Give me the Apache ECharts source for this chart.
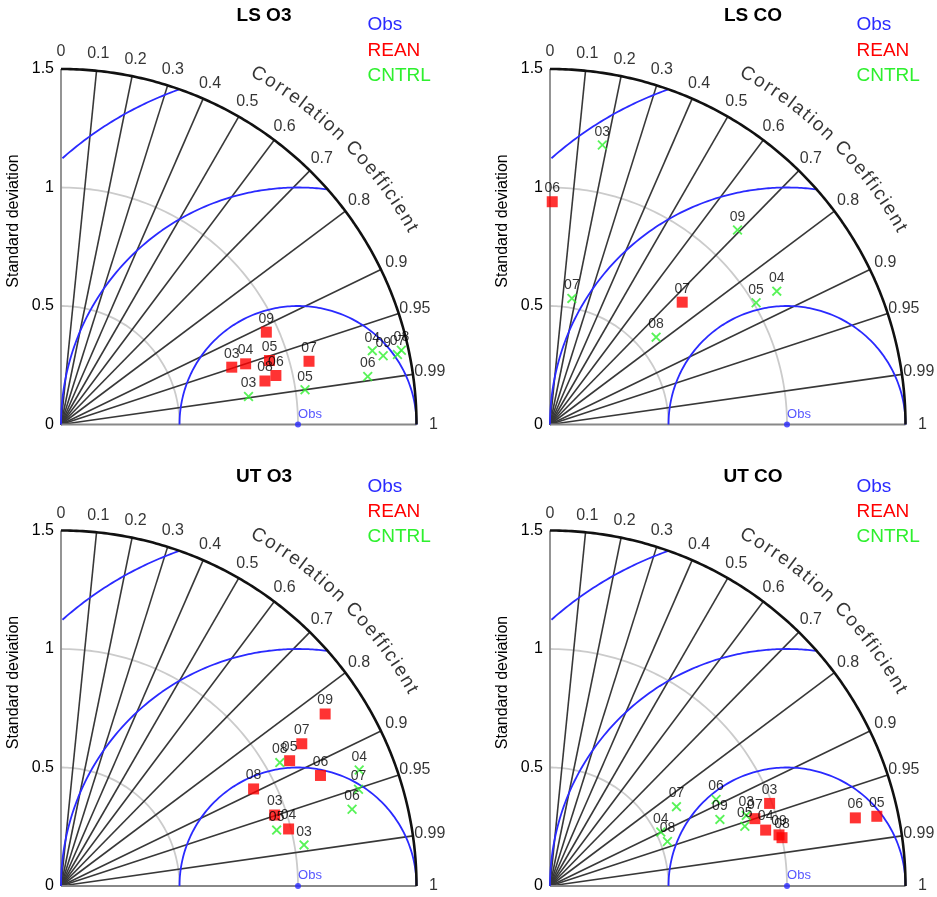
<!DOCTYPE html>
<html>
<head>
<meta charset="utf-8">
<title>Taylor diagrams</title>
<script src="https://cdn.jsdelivr.net/npm/echarts@6.0.0/dist/echarts.min.js"></script>
<style>
html, body { margin: 0; padding: 0; background: #fff; }
#chart { width: 937px; height: 897px; }
</style>
</head>
<body>
<div id="chart"></div>
<script>
// panels, in reading order
var panelTitles = ['LS O3', 'LS CO', 'UT O3', 'UT CO'];
var seriesNames = ['Obs', 'REAN', 'CNTRL'];

// correlation ticks round the arc
var corrTicks = [0, 0.1, 0.2, 0.3, 0.4, 0.5, 0.6, 0.7, 0.8, 0.9, 0.95, 0.99, 1];
var corrTickLabels = ['0', '0.1', '0.2', '0.3', '0.4', '0.5', '0.6', '0.7', '0.8', '0.9', '0.95', '0.99', '1'];
var stdArcs = [0.5, 1];        // grey std circles
var rmsArcs = [0.5, 1, 1.5];   // blue centred-RMS circles round Obs
var obsStd = 1;

// LS O3
var lsO3ReanLabels = ['03', '04', '05', '06', '07', '08', '09'];
var lsO3ReanStd    = [0.76, 0.82, 0.92, 0.93, 1.08, 0.88, 0.95];
var lsO3ReanCorr   = [0.948, 0.950, 0.956, 0.975, 0.969, 0.978, 0.912];
var lsO3CntrlLabels = ['03', '04', '05', '06', '07', '08', '09'];
var lsO3CntrlStd    = [0.80, 1.35, 1.04, 1.31, 1.45, 1.47, 1.39];
var lsO3CntrlCorr   = [0.989, 0.973, 0.990, 0.988, 0.979, 0.977, 0.978];

// LS CO
var lsCoReanLabels = ['06', '07'];
var lsCoReanStd    = [0.94, 0.76];
var lsCoReanCorr   = [0.01, 0.734];
var lsCoCntrlLabels = ['03', '04', '05', '07', '08', '09'];
var lsCoCntrlStd    = [1.20, 1.11, 1.01, 0.54, 0.58, 1.14];
var lsCoCntrlCorr   = [0.184, 0.862, 0.861, 0.171, 0.772, 0.694];

// UT O3
var utO3ReanLabels = ['03', '04', '05', '06', '07', '08', '09'];
var utO3ReanStd    = [0.95, 0.99, 1.10, 1.19, 1.18, 0.91, 1.33];
var utO3ReanCorr   = [0.949, 0.970, 0.877, 0.920, 0.861, 0.893, 0.838];
var utO3CntrlLabels = ['03', '04', '05', '06', '07', '08'];
var utO3CntrlStd    = [1.04, 1.35, 0.94, 1.27, 1.32, 1.06];
var utO3CntrlCorr   = [0.986, 0.932, 0.968, 0.967, 0.951, 0.871];

// UT CO
var utCoReanLabels = ['03', '04', '05', '06', '07', '08', '09'];
var utCoReanStd    = [0.99, 0.94, 1.41, 1.32, 0.91, 1.00, 0.99];
var utCoReanCorr   = [0.936, 0.968, 0.978, 0.976, 0.950, 0.979, 0.976];
var utCoCntrlLabels = ['03', '04', '05', '06', '07', '08', '09'];
var utCoCntrlStd    = [0.88, 0.52, 0.86, 0.79, 0.63, 0.53, 0.77];
var utCoCntrlCorr   = [0.941, 0.899, 0.956, 0.887, 0.847, 0.935, 0.931];

var panelData = [
  { rean: [lsO3ReanLabels, lsO3ReanStd, lsO3ReanCorr], cntrl: [lsO3CntrlLabels, lsO3CntrlStd, lsO3CntrlCorr] },
  { rean: [lsCoReanLabels, lsCoReanStd, lsCoReanCorr], cntrl: [lsCoCntrlLabels, lsCoCntrlStd, lsCoCntrlCorr] },
  { rean: [utO3ReanLabels, utO3ReanStd, utO3ReanCorr], cntrl: [utO3CntrlLabels, utO3CntrlStd, utO3CntrlCorr] },
  { rean: [utCoReanLabels, utCoReanStd, utCoReanCorr], cntrl: [utCoCntrlLabels, utCoCntrlStd, utCoCntrlCorr] }
];

// layout
var FONT = '"Liberation Sans", Arial, Helvetica, sans-serif';
var STD_MAX = 1.5;
var R_PX = 355.5;                 // pixels for STD_MAX
var UNIT = R_PX / STD_MAX;
var origins = [[61, 424.5], [550, 424.5], [61, 886], [550, 886]];
var colBlue = '#2a2aff', colRed = '#ff0000', colGreen = '#2ef02e';
var xSymbol = 'path://M0,1.3L1.3,0L5,3.7L8.7,0L10,1.3L6.3,5L10,8.7L8.7,10L5,6.3L1.3,10L0,8.7L3.7,5Z';

function toXY(std, corr) {
  return [std * corr, std * Math.sqrt(Math.max(0, 1 - corr * corr))];
}

var ctx = document.createElement('canvas').getContext('2d');
ctx.font = '19px ' + FONT;
function arcLetters(text, rUnits, startDeg, gapPx) {
  var chars = text.split(''), out = [], s = 0;
  var w = chars.map(function (c) { return ctx.measureText(c).width; });
  for (var k = 0; k < chars.length; k++) {
    if (k > 0) s += w[k - 1] / 2 + gapPx + w[k] / 2;
    var th = startDeg * Math.PI / 180 - s / (rUnits * UNIT);
    if (chars[k] === ' ') continue;
    out.push({ name: chars[k], value: [rUnits * Math.cos(th), rUnits * Math.sin(th)],
      label: { rotate: th * 180 / Math.PI - 90 } });
  }
  return out;
}

function line(i, pts, color, width, z) {
  return { type: 'line', xAxisIndex: i, yAxisIndex: i, data: pts, symbol: 'none', showSymbol: false,
    clip: false, silent: true, z: z, lineStyle: { color: color, width: width } };
}

var grids = [], xAxes = [], yAxes = [], series = [], graphics = [];

origins.forEach(function (o, i) {
  grids.push({ left: o[0], top: o[1] - R_PX, width: R_PX, height: R_PX, containLabel: false, outerBoundsMode: 'none' });
  xAxes.push({ type: 'value', gridIndex: i, min: 0, max: STD_MAX, show: false });
  yAxes.push({ type: 'value', gridIndex: i, min: 0, max: STD_MAX, interval: 0.5,
    axisLine: { show: false }, axisTick: { show: false }, splitLine: { show: false },
    axisLabel: { fontSize: 16, color: '#000', margin: 7, fontFamily: FONT } });

  // grey std arcs
  stdArcs.forEach(function (s) {
    var pts = [];
    for (var a = 0; a <= 90; a += 1) pts.push([s * Math.cos(a * Math.PI / 180), s * Math.sin(a * Math.PI / 180)]);
    series.push(line(i, pts, '#cbcbcb', 1.8, 1));
  });
  // blue rms arcs
  rmsArcs.forEach(function (rho) {
    var pts = [];
    for (var p = 0; p <= 180; p += 0.5) {
      var x = obsStd + rho * Math.cos(p * Math.PI / 180), y = rho * Math.sin(p * Math.PI / 180);
      if (x >= -1e-9 && x * x + y * y <= STD_MAX * STD_MAX + 1e-6) pts.push([x, y]);
    }
    series.push(line(i, pts, colBlue, 1.8, 3));
  });
  // radial correlation lines
  corrTicks.forEach(function (c) {
    var edge = c === 0 || c === 1;
    series.push(line(i, [[0, 0], toXY(STD_MAX, c)], edge ? '#888' : '#383838', edge ? 1.8 : 1.6, 2));
  });
  // outer arc
  var outer = [];
  for (var a = 0; a <= 90; a += 0.5) outer.push(toXY(STD_MAX, Math.cos(a * Math.PI / 180)));
  series.push(line(i, outer, '#111', 2.6, 4));

  // correlation tick labels
  series.push({ type: 'scatter', xAxisIndex: i, yAxisIndex: i, symbolSize: 0, clip: false, silent: true, z: 5,
    data: corrTicks.map(function (c, k) { return { name: corrTickLabels[k], value: toXY(STD_MAX + 17 / UNIT, c) }; }),
    label: { show: true, position: 'inside', formatter: '{b}', fontSize: 16, color: '#000', fontFamily: FONT } });
  // curved axis title
  series.push({ type: 'scatter', xAxisIndex: i, yAxisIndex: i, symbolSize: 0, clip: false, silent: true, z: 5,
    data: arcLetters('Correlation Coefficient', 402 / UNIT, 60.6, 1.9),
    label: { show: true, position: 'inside', formatter: '{b}', fontSize: 19, color: '#000', fontFamily: FONT } });

  // observation point
  series.push({ type: 'scatter', xAxisIndex: i, yAxisIndex: i, clip: false, silent: true, z: 8,
    symbol: 'circle', symbolSize: 6, itemStyle: { color: colBlue },
    data: [{ name: 'Obs', value: [obsStd, 0] }],
    label: { show: true, position: 'top', distance: 1, offset: [12, 0], formatter: '{b}', fontSize: 13, color: colBlue, fontFamily: FONT } });

  var d = panelData[i];
  function pts(arr) {
    return arr[0].map(function (lab, k) { return { name: lab, value: toXY(arr[1][k], arr[2][k]) }; });
  }
  series.push({ type: 'scatter', name: 'REAN', xAxisIndex: i, yAxisIndex: i, clip: false, silent: true, z: 10,
    symbol: 'rect', symbolSize: 11, itemStyle: { color: colRed }, data: pts(d.rean),
    label: { show: true, position: 'top', distance: 1, formatter: '{b}', fontSize: 14, color: '#000', fontFamily: FONT } });
  series.push({ type: 'scatter', name: 'CNTRL', xAxisIndex: i, yAxisIndex: i, clip: false, silent: true, z: 10,
    symbol: xSymbol, symbolSize: 10, itemStyle: { color: colGreen }, data: pts(d.cntrl),
    label: { show: true, position: 'top', distance: 1, formatter: '{b}', fontSize: 14, color: '#000', fontFamily: FONT } });

  // panel title, legend text, y-axis name
  graphics.push({ type: 'text', x: o[0] + 203, y: o[1] - 409, silent: true,
    style: { text: panelTitles[i], font: 'bold 19px ' + FONT, fill: '#000', align: 'center', verticalAlign: 'middle' } });
  [colBlue, colRed, colGreen].forEach(function (c, k) {
    graphics.push({ type: 'text', x: o[0] + 306.5, y: o[1] - 399.5 + 25.3 * k, silent: true,
      style: { text: seriesNames[k], font: '19px ' + FONT, fill: c, align: 'left', verticalAlign: 'middle' } });
  });
  graphics.push({ type: 'text', x: o[0] - 47, y: o[1] - 203.5, rotation: Math.PI / 2, silent: true,
    style: { text: 'Standard deviation', font: '16px ' + FONT, fill: '#000', align: 'center', verticalAlign: 'middle' } });
});

var myChart = echarts.init(document.getElementById('chart'));
myChart.setOption({
  animation: false,
  backgroundColor: '#fff',
  grid: grids,
  xAxis: xAxes,
  yAxis: yAxes,
  series: series,
  graphic: graphics
});
window.addEventListener('resize', function () { myChart.resize(); });
</script>
</body>
</html>
